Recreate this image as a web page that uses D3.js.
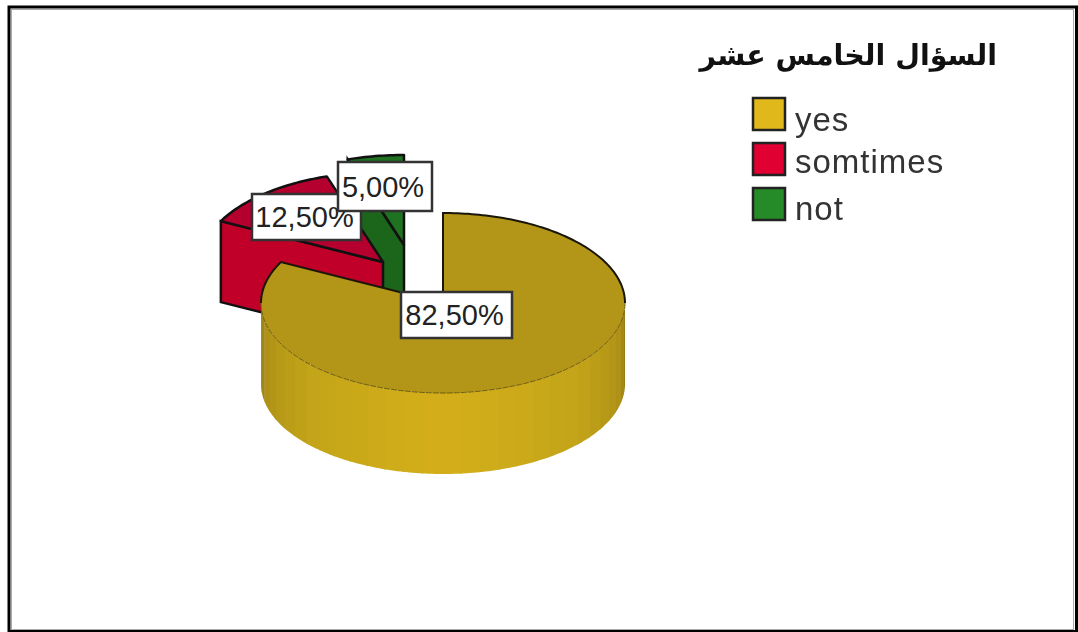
<!DOCTYPE html>
<html>
  <head>
    <meta charset="utf-8">
    <title>Pie</title>
    <style>
      html, body { margin: 0; padding: 0; background: #fff; }
      svg { display: block; filter: blur(0.6px); }
      .lab { font-family: "Liberation Sans", Arial, sans-serif; font-size: 29px; fill: #222; }
      .leg { font-family: "Liberation Sans", Arial, sans-serif; font-size: 33px; letter-spacing: 1px; fill: #333; }
      .title { font-family: "DejaVu Sans", sans-serif; font-size: 28.5px; font-weight: bold; fill: #111; }
    </style>
  </head>
  <body>
    <script src="https://d3js.org/d3.v7.min.js"></script>
    <script>
      const categories = ["yes", "somtimes", "not"];
      const percents = [82.5, 12.5, 5];
      const valueLabels = ["82,50%", "12,50%", "5,00%"];
      const topColors = ["#b39617", "#b5002f", "#1f7220"];
      const wallColors = ["#d4af1a", "#c00028", "#1c661c"];
      const legendColors = ["#e0b81c", "#e00032", "#258a28"];
      const title = "السؤال الخامس عشر";

      const width = 1078;
      const height = 632;
      const rx = 182;
      const ry = 90;
      const depth = 81;

      // where each slice sits after being pulled out of the pie
      const centers = [[443, 303], [383, 262], [404, 245]];
      const labelBoxes = [[401, 292, 111, 46], [252, 194, 109, 46], [338, 162, 94, 49]];

      const svg = d3.select("body")
        .append("svg")
        .attr("width", width)
        .attr("height", height);

      const pie = d3.pie().sort(null).value(d => d);
      const arcs = pie(percents);

      const unitX = d3.scaleLinear().domain([-1, 1]).range([-rx, rx]);
      const unitY = d3.scaleLinear().domain([-1, 1]).range([-ry, ry]);
      const line = d3.line();

      function rim(i, a, drop = 0) {
        const c = centers[i];
        return [c[0] + unitX(Math.sin(a)), c[1] + drop + unitY(-Math.cos(a))];
      }

      function rimPoints(i, a0, a1, drop = 0) {
        const n = Math.max(2, Math.ceil((a1 - a0) / 0.02));
        return d3.range(n + 1).map(k => rim(i, a0 + (a1 - a0) * k / n, drop));
      }

      const shade = d3.scaleLinear()
        .domain([0, 0.5, 0.85, 1])
        .range(["#d4af1a", "#c4a519", "#ad9016", "#8f7814"]);

      function drawSlice(i) {
        const { startAngle: a0, endAngle: a1 } = arcs[i];
        const c = centers[i];
        const g = svg.append("g");

        // wall along the start radius of the small slices
        if (i > 0) {
          const outer = rim(i, a0);
          g.append("path")
            .attr("d", line([outer, c, [c[0], c[1] + depth], [outer[0], outer[1] + depth]]) + "Z")
            .attr("fill", wallColors[i])
            .attr("stroke", "#111")
            .attr("stroke-width", 2.5);
        }

        // front rim is painted in narrow strips
        const front0 = Math.max(a0, Math.PI / 2);
        const front1 = Math.min(a1, Math.PI * 1.5);
        if (i === 0) {
          const step = 0.105;
          d3.range(front0, front1, step).forEach(a => {
            const b = Math.min(a + step + 0.01, front1);
            const top = rimPoints(i, a, b);
            const bottom = rimPoints(i, a, b, depth).reverse();
            g.append("path")
              .attr("d", line(top.concat(bottom)) + "Z")
              .attr("fill", shade(Math.abs((a + b) / 2 - Math.PI) / (Math.PI / 2)));
          });
        }

        // top face
        const face = [c].concat(rimPoints(i, a0, a1));
        g.append("path")
          .attr("d", line(face) + "Z")
          .attr("fill", topColors[i])
          .attr("stroke", i === 0 ? "none" : "#111")
          .attr("stroke-width", 2.5)
          .attr("stroke-linejoin", "round");

        if (i === 0) {
          const dark = [
            [c].concat(rimPoints(i, a0, Math.PI / 2)),
            rimPoints(i, Math.PI * 1.5, a1).concat([c])
          ];
          dark.forEach(p => g.append("path")
            .attr("d", line(p))
            .attr("fill", "none")
            .attr("stroke", "#1a1608")
            .attr("stroke-width", 2));
          g.append("path")
            .attr("d", line(rimPoints(i, Math.PI / 2, Math.PI * 1.5)))
            .attr("fill", "none")
            .attr("stroke", "#6e5c10")
            .attr("stroke-width", 1)
            .attr("stroke-dasharray", "6 1");
        }
      }

      // back slices first so the large one covers them
      [2, 1, 0].forEach(drawSlice);

      // value labels
      const labels = svg.selectAll(".label-box")
        .data(valueLabels)
        .enter()
        .append("g")
        .attr("class", "label-box")
        .attr("transform", (d, i) => `translate(${labelBoxes[i][0]},${labelBoxes[i][1]})`);

      labels.append("rect")
        .attr("width", (d, i) => labelBoxes[i][2])
        .attr("height", (d, i) => labelBoxes[i][3])
        .attr("fill", "#fff")
        .attr("stroke", "#333")
        .attr("stroke-width", 2.5);

      labels.append("text")
        .attr("class", "lab")
        .attr("x", (d, i) => labelBoxes[i][2] / 2 - 2)
        .attr("y", (d, i) => labelBoxes[i][3] / 2 + 10)
        .attr("text-anchor", "middle")
        .text(d => d);

      // legend
      const legendY = d3.scalePoint().domain(categories).range([97, 187]);
      const legendBase = d3.scaleOrdinal().domain(categories).range([131, 173, 220]);

      const legend = svg.selectAll(".legend-item")
        .data(categories)
        .enter()
        .append("g")
        .attr("class", "legend-item");

      legend.append("rect")
        .attr("x", 753)
        .attr("y", d => legendY(d) + 1)
        .attr("width", 32)
        .attr("height", 32)
        .attr("fill", (d, i) => legendColors[i])
        .attr("stroke", "#222")
        .attr("stroke-width", 2.5);

      legend.append("text")
        .attr("class", "leg")
        .attr("x", 795)
        .attr("y", d => legendBase(d))
        .text(d => d);

      svg.append("text")
        .attr("class", "title")
        .attr("x", 997)
        .attr("y", 65)
        .attr("direction", "rtl")
        .attr("text-anchor", "start")
        .text(title);

      // frame
      svg.append("rect")
        .attr("x", 9)
        .attr("y", 7)
        .attr("width", 1067.5)
        .attr("height", 624.5)
        .attr("fill", "none")
        .attr("stroke", "#000")
        .attr("stroke-width", 3);
      svg.append("rect")
        .attr("x", 11.5)
        .attr("y", 9.5)
        .attr("width", 1062)
        .attr("height", 620)
        .attr("fill", "none")
        .attr("stroke", "#aaa")
        .attr("stroke-width", 1);
    </script>
  </body>
</html>
